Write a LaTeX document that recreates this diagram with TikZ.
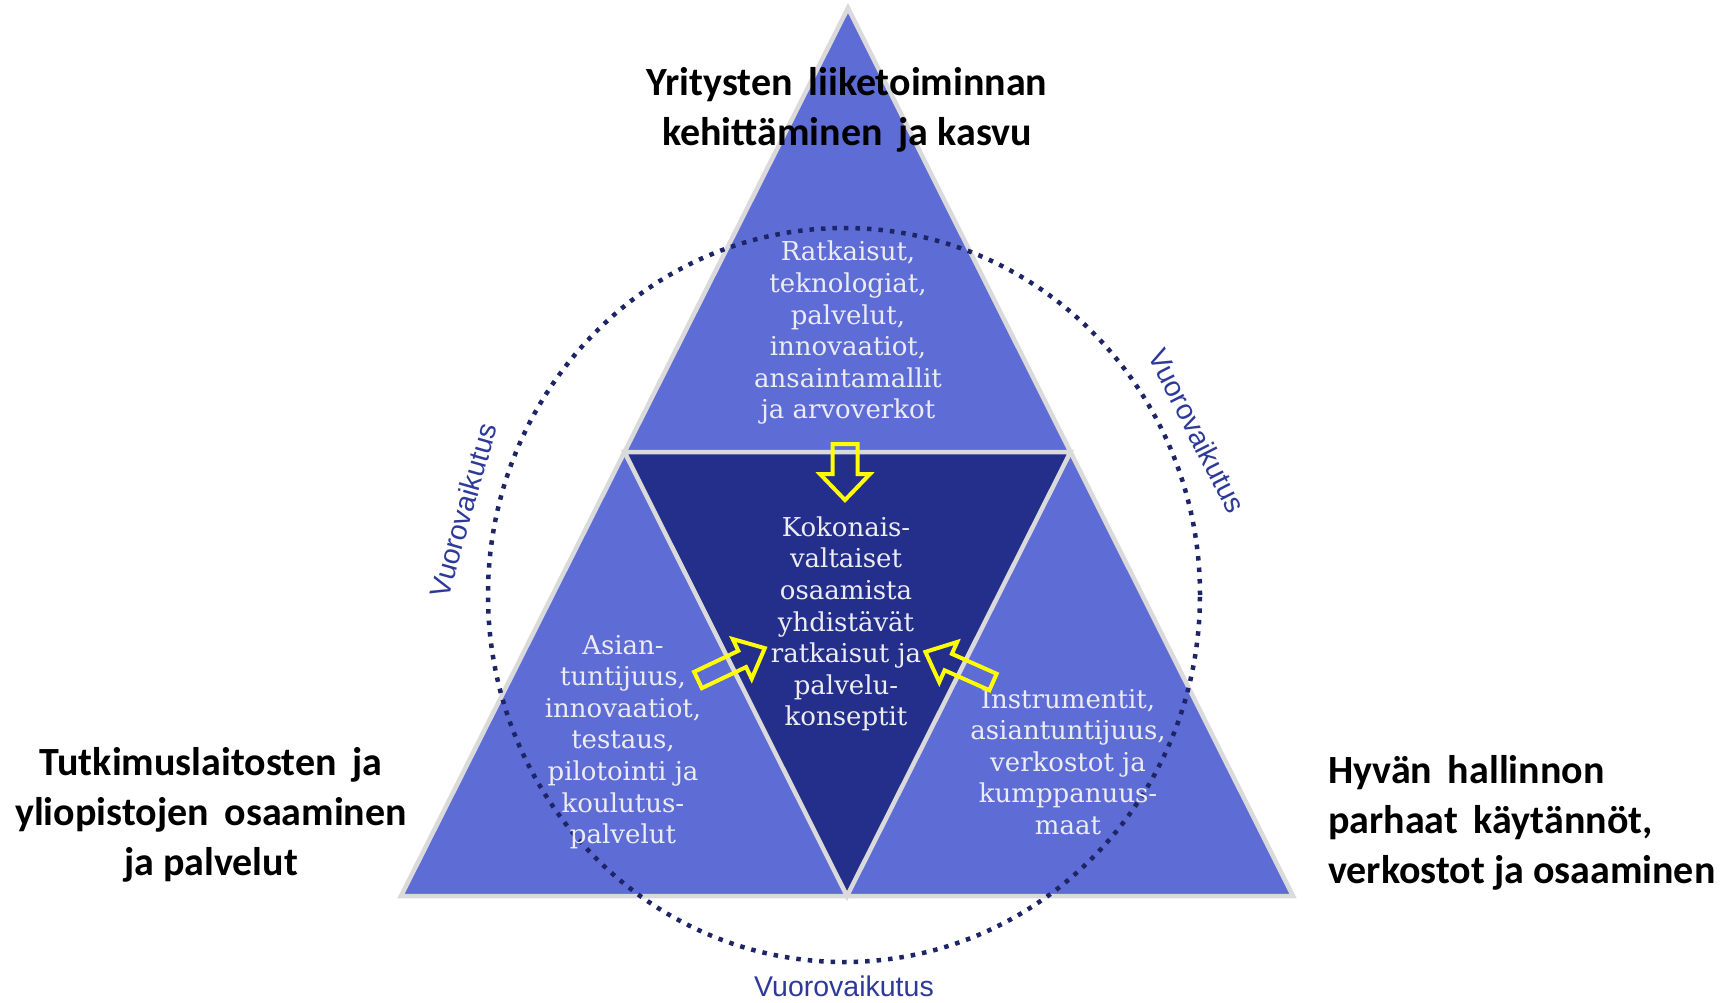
\documentclass[tikz,border=0pt]{standalone}
\usepackage{fontspec}
\setmainfont{DejaVu Serif}
\newfontfamily\headfont{Carlito}
\newfontfamily\labfont{Liberation Sans}
\definecolor{midblue}{HTML}{5E6CD5}
\definecolor{darkblue}{HTML}{242F8B}
\definecolor{edgegray}{HTML}{DADADA}
\definecolor{dotnavy}{HTML}{1E2566}
\definecolor{innertext}{HTML}{ECECF2}
\definecolor{labblue}{HTML}{2E3A9A}
\definecolor{arrowyellow}{HTML}{FFFF00}
\begin{document}
\begin{tikzpicture}[x=1pt,y=-1pt,
  heading/.style={font=\headfont\bfseries\fontsize{40pt}{50pt}\selectfont, text=black, inner sep=0pt},
  innertxt/.style={font=\fontsize{26pt}{31.6pt}\selectfont, text=innertext, align=center, inner sep=0pt},
  vlabel/.style={font=\labfont\fontsize{28.5pt}{34pt}\selectfont, text=labblue, inner sep=0pt},
  tri/.style={draw=edgegray, line width=4.5pt, line join=miter},
  yarrow/.style={draw=arrowyellow, line width=4pt, line join=miter},
  dotring/.style={draw=dotnavy, line width=4.5pt, dash pattern=on 4.5pt off 7pt}
]
\useasboundingbox (0,0) rectangle (1724,1002);
\fill[white] (0,0) rectangle (1724,1002);

% vertices
\coordinate (A) at (848,8);
\coordinate (BL) at (401,896);
\coordinate (BR) at (1293,896);
\coordinate (ML) at (624.5,452);
\coordinate (MR) at (1070.5,452);
\coordinate (MB) at (847,896);

% triangles
\fill[midblue] (A) -- (BL) -- (BR) -- cycle;
\fill[darkblue] (ML) -- (MR) -- (MB) -- cycle;
\draw[tri] (A) -- (BL) -- (BR) -- cycle;
\draw[tri] (ML) -- (MR) -- (MB) -- cycle;

% dotted ring
\coordinate (RC) at (844,595);
\draw[dotring] (RC) ellipse [x radius=356pt, y radius=367pt];

% inner texts
\node[innertxt] (top) at (848,333) {Ratkaisut,\\teknologiat,\\palvelut,\\innovaatiot,\\ansaintamallit\\ja arvoverkot};
\node[innertxt] (center) at (846,624) {Kokonais-\\valtaiset\\osaamista\\yhdistävät\\ratkaisut ja\\palvelu-\\konseptit};
\node[innertxt] (left) at (623,742) {Asian-\\tuntijuus,\\innovaatiot,\\testaus,\\pilotointi ja\\koulutus-\\palvelut};
\node[innertxt] (right) at (1068,762) {Instrumentit,\\asiantuntijuus,\\verkostot ja\\kumppanuus-\\maat};

% block arrows
\begin{scope}[shift={(845,444)}, rotate=-90]
  \draw[yarrow] (0,-12.5) -- (30,-12.5) -- (30,-25) -- (56,0) -- (30,25) -- (30,12.5) -- (0,12.5) -- cycle;
\end{scope}
\begin{scope}[shift={(698,680)}, rotate=25.5]
  \draw[yarrow] (0,-9) -- (49,-9) -- (49,-22) -- (74,0) -- (49,22) -- (49,9) -- (0,9) -- cycle;
\end{scope}
\begin{scope}[shift={(993,682)}, rotate=156]
  \draw[yarrow] (0,-9) -- (49,-9) -- (49,-22) -- (74,0) -- (49,22) -- (49,9) -- (0,9) -- cycle;
\end{scope}

% headings
\node[heading, align=center] (h1) at (847,110) {Yritysten\, liiketoiminnan\\kehittäminen\, ja kasvu};
\node[heading, align=center] (h2) at (211,815) {Tutkimuslaitosten\, ja\\yliopistojen\, osaaminen\\ja palvelut};
\node[heading, align=left, anchor=west] (h3) at (1328,823) {Hyvän\, hallinnon\\parhaat\, käytännöt,\\verkostot ja osaaminen};

% interaction labels
\node[vlabel] (v1) at (844,986) {Vuorovaikutus};
\node[vlabel, rotate=74] (v2) at (463,510) {Vuorovaikutus};
\node[vlabel, rotate=-63] (v3) at (1197,431) {Vuorovaikutus};
\end{tikzpicture}
\end{document}
